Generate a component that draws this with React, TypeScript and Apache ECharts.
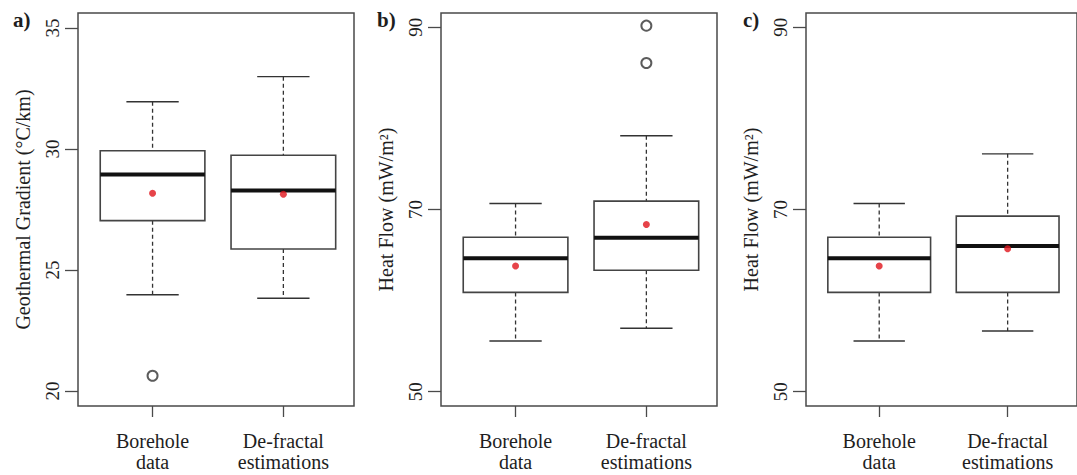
import React, { useEffect, useRef } from "react";
import * as echarts from "echarts";

const categories = ["Borehole\ndata", "De-fractal\nestimations"];
const positions = [1, 2];

// each box: [lowerWhisker, Q1, median, Q3, upperWhisker]
const gradientBoxes = [
  [23.98, 27.04, 28.95, 29.93, 31.95],
  [23.83, 25.87, 28.28, 29.74, 32.99],
];
const gradientMeans = [28.17, 28.13];
const gradientOutliers = [[1, 20.63]];

const heatFlowBBoxes = [
  [55.56, 60.9, 64.65, 66.96, 70.66],
  [56.96, 63.33, 66.9, 70.92, 78.1],
];
const heatFlowBMeans = [63.8, 68.35];
const heatFlowBOutliers = [
  [2, 86.08],
  [2, 90.18],
];

const heatFlowCBoxes = [
  [55.56, 60.9, 64.65, 66.96, 70.66],
  [56.66, 60.9, 66.0, 69.27, 76.11],
];
const heatFlowCMeans = [63.8, 65.7];
const heatFlowCOutliers: number[][] = [];

const panelLabels = ["a)", "b)", "c)"];
const yTitles = ["Geothermal Gradient (°C/km)", "Heat Flow (mW/m²)", "Heat Flow (mW/m²)"];
const yTickValues = [
  [20, 25, 30, 35],
  [50, 70, 90],
  [50, 70, 90],
];
const yRanges = [
  [19.38, 35.62],
  [48.43, 91.57],
  [48.43, 91.57],
];

const FONT = "Liberation Serif";
const FRAME = "#4a4a4a";
const TEXT = "#1e1e1e";

const renderBox = (params: any, api: any) => {
  const x = api.value(0);
  const lo = api.coord([x, api.value(1)]);
  const q1 = api.coord([x, api.value(2)]);
  const med = api.coord([x, api.value(3)]);
  const q3 = api.coord([x, api.value(4)]);
  const hi = api.coord([x, api.value(5)]);
  const halfBox = api.size([0.4, 0])[0];
  const halfCap = api.size([0.2, 0])[0];
  const cx = lo[0];
  const stroke = "#333";
  return {
    type: "group",
    children: [
      {
        type: "line",
        shape: { x1: cx, y1: hi[1], x2: cx, y2: q3[1] },
        style: { stroke, lineWidth: 1.3, lineDash: [4, 3] },
      },
      {
        type: "line",
        shape: { x1: cx, y1: q1[1], x2: cx, y2: lo[1] },
        style: { stroke, lineWidth: 1.3, lineDash: [4, 3] },
      },
      {
        type: "line",
        shape: { x1: cx - halfCap, y1: hi[1], x2: cx + halfCap, y2: hi[1] },
        style: { stroke, lineWidth: 1.4 },
      },
      {
        type: "line",
        shape: { x1: cx - halfCap, y1: lo[1], x2: cx + halfCap, y2: lo[1] },
        style: { stroke, lineWidth: 1.4 },
      },
      {
        type: "rect",
        shape: { x: cx - halfBox, y: q3[1], width: halfBox * 2, height: q1[1] - q3[1] },
        style: { stroke: "#444", lineWidth: 1.6, fill: "#fff" },
      },
      {
        type: "line",
        shape: { x1: cx - halfBox, y1: med[1], x2: cx + halfBox, y2: med[1] },
        style: { stroke: "#111", lineWidth: 4 },
      },
    ],
  };
};

const panels = [
  { boxes: gradientBoxes, means: gradientMeans, outliers: gradientOutliers, left: 78 },
  { boxes: heatFlowBBoxes, means: heatFlowBMeans, outliers: heatFlowBOutliers, left: 441 },
  { boxes: heatFlowCBoxes, means: heatFlowCMeans, outliers: heatFlowCOutliers, left: 806 },
];
const labelLefts = [13, 377, 743];

export default function App() {
  const ref = useRef<HTMLDivElement>(null);
  useEffect(() => {
    if (!ref.current) return;
    const chart = echarts.init(ref.current, undefined, { renderer: "svg" });
    const grids = panels.map((p) => ({
      left: p.left,
      top: 13,
      width: 276,
      height: 393,
      show: true,
      borderColor: FRAME,
      borderWidth: 1.5,
      backgroundColor: "transparent",
    }));
    const xAxes = panels.map((_, i) => ({
      type: "value",
      gridIndex: i,
      min: 0.43,
      max: 2.54,
      splitLine: { show: false },
      axisLine: { show: false },
      axisTick: {
        show: true,
        customValues: positions,
        length: 11,
        lineStyle: { color: FRAME, width: 1.3 },
      },
      axisLabel: {
        customValues: positions,
        formatter: (v: number) => categories[Math.round(v) - 1] ?? "",
        fontFamily: FONT,
        fontSize: 20,
        lineHeight: 21,
        color: TEXT,
        margin: 24,
      },
    }));
    const yAxes = panels.map((_, i) => ({
      type: "value",
      gridIndex: i,
      min: yRanges[i][0],
      max: yRanges[i][1],
      splitLine: { show: false },
      axisLine: { show: false },
      axisTick: {
        show: true,
        customValues: yTickValues[i],
        length: 13,
        lineStyle: { color: FRAME, width: 1.3 },
      },
      axisLabel: {
        customValues: yTickValues[i],
        rotate: 90,
        fontFamily: FONT,
        fontSize: 19,
        color: TEXT,
        margin: 16,
      },
      name: yTitles[i],
      nameLocation: "middle",
      nameRotate: 90,
      nameGap: 45,
      nameTextStyle: { fontFamily: FONT, fontSize: 20, color: TEXT },
    }));
    const series: any[] = [];
    panels.forEach((p, i) => {
      series.push({
        type: "custom",
        xAxisIndex: i,
        yAxisIndex: i,
        renderItem: renderBox,
        data: p.boxes.map((b, j) => [positions[j], ...b]),
        encode: { x: 0, y: [1, 2, 3, 4, 5] },
        z: 2,
      });
      series.push({
        type: "scatter",
        xAxisIndex: i,
        yAxisIndex: i,
        symbol: "circle",
        symbolSize: 7,
        itemStyle: { color: "#e0141c" },
        data: p.means.map((m, j) => [positions[j], m]),
        z: 5,
      });
      series.push({
        type: "scatter",
        xAxisIndex: i,
        yAxisIndex: i,
        symbol: "emptyCircle",
        symbolSize: 10,
        itemStyle: { color: "#333", borderColor: "#333", borderWidth: 1.1 },
        data: p.outliers,
        z: 5,
      });
    });
    chart.setOption({
      animation: false,
      backgroundColor: "#fff",
      title: panelLabels.map((t, i) => ({
        text: t,
        left: labelLefts[i],
        top: 9,
        padding: 0,
        textStyle: { fontFamily: FONT, fontSize: 21, fontWeight: "bold", color: TEXT },
      })),
      grid: grids,
      xAxis: xAxes,
      yAxis: yAxes,
      series,
    });
    return () => chart.dispose();
  }, []);
  return (
    <div
      ref={ref}
      style={{ position: "fixed", left: 0, top: 0, width: 1077, height: 475 }}
    />
  );
}
